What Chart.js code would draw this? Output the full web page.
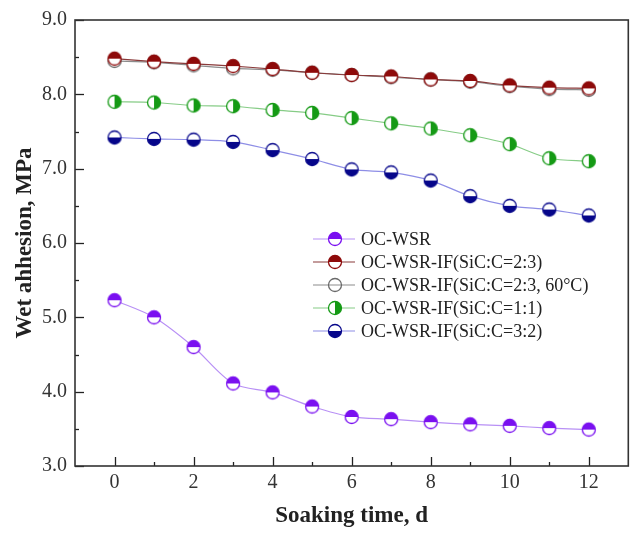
<!DOCTYPE html>
<html>
<head>
<meta charset="utf-8">
<script src="https://cdn.jsdelivr.net/npm/chart.js@4.4.1/dist/chart.umd.min.js"></script>
<style>
  body { margin: 0; background: #fff; }
  canvas { display: block; }
</style>
</head>
<body>
<canvas id="wetChart" width="636" height="534"></canvas>
<script>
const days = [0, 1, 2, 3, 4, 5, 6, 7, 8, 9, 10, 11, 12];
const ocWsr = [5.23, 5.00, 4.60, 4.11, 3.99, 3.80, 3.66, 3.63, 3.59, 3.56, 3.54, 3.51, 3.49];
const sic23 = [8.48, 8.44, 8.41, 8.38, 8.34, 8.29, 8.26, 8.24, 8.20, 8.18, 8.12, 8.09, 8.08];
const sic23hot = [8.45, 8.43, 8.39, 8.35, 8.33, 8.29, 8.26, 8.23, 8.20, 8.17, 8.11, 8.07, 8.06];
const sic11 = [7.90, 7.89, 7.85, 7.84, 7.79, 7.75, 7.68, 7.61, 7.54, 7.45, 7.33, 7.14, 7.10];
const sic32 = [7.42, 7.40, 7.39, 7.36, 7.25, 7.13, 6.99, 6.95, 6.84, 6.63, 6.50, 6.45, 6.37];
const seriesNames = [
  'OC-WSR',
  'OC-WSR-IF(SiC:C=2:3)',
  'OC-WSR-IF(SiC:C=2:3, 60°C)',
  'OC-WSR-IF(SiC:C=1:1)',
  'OC-WSR-IF(SiC:C=3:2)'
];
const yTicks = [3, 4, 5, 6, 7, 8, 9];
const xTicks = [0, 2, 4, 6, 8, 10, 12];

const SERIF = '"Liberation Serif", "Times New Roman", serif';

// half-filled circle symbol, drawn once and reused as pointStyle
function halfDot(color, half, fill) {
  const r = 6.5;
  const size = 18;
  const c = document.createElement('canvas');
  c.width = size;
  c.height = size;
  const g = c.getContext('2d');
  const m = size / 2;
  g.beginPath();
  g.arc(m, m, r, 0, Math.PI * 2);
  g.fillStyle = fill;
  g.fill();
  if (half) {
    g.save();
    g.beginPath();
    if (half === 'top') g.rect(0, 0, size, m);
    if (half === 'bottom') g.rect(0, m, size, m);
    if (half === 'right') g.rect(m, 0, m, size);
    g.clip();
    g.beginPath();
    g.arc(m, m, r, 0, Math.PI * 2);
    g.fillStyle = color;
    g.fill();
    g.restore();
  }
  g.beginPath();
  g.arc(m, m, r, 0, Math.PI * 2);
  g.lineWidth = 1.3;
  g.strokeStyle = color;
  g.stroke();
  return c;
}

const dots = [
  halfDot('#7a10f0', 'top', '#fff'),
  halfDot('#8e0a0a', 'top', '#fff'),
  halfDot('#6a6a6a', null, 'rgba(255,255,255,0)'),
  halfDot('#159a15', 'right', '#fff'),
  halfDot('#06068a', 'bottom', '#fff')
];
const lineColors = ['#b890f5', '#8a3a3a', '#8c8c8c', '#86cc86', '#8e8ee6'];
const seriesData = [ocWsr, sic23, sic23hot, sic11, sic32];

const datasets = seriesData.map((vals, i) => ({
  label: seriesNames[i],
  data: days.map((d, j) => ({ x: d, y: vals[j] })),
  borderColor: lineColors[i],
  borderWidth: 1.2,
  pointStyle: dots[i],
  pointRadius: 6.5,
  tension: 0.3,
  fill: false
}));

// frame with inward ticks
const frameTicks = {
  id: 'frameTicks',
  afterDraw(chart) {
    const { ctx, chartArea: a, scales: { x, y } } = chart;
    ctx.save();
    ctx.strokeStyle = '#222';
    ctx.lineWidth = 1.3;
    for (let v = 3; v <= 9; v += 0.5) {
      const py = Math.round(y.getPixelForValue(v)) + 0.5;
      const len = Number.isInteger(v) ? 9 : 4;
      ctx.beginPath();
      ctx.moveTo(a.left, py);
      ctx.lineTo(a.left + len, py);
      ctx.stroke();
    }
    for (let d = 0; d <= 12; d++) {
      const px = Math.round(x.getPixelForValue(d)) + 0.5;
      const len = d % 2 === 0 ? 9 : 4;
      ctx.beginPath();
      ctx.moveTo(px, a.bottom);
      ctx.lineTo(px, a.bottom - len);
      ctx.stroke();
    }
    ctx.lineWidth = 1.6;
    ctx.strokeStyle = '#333';
    ctx.strokeRect(a.left, a.top, a.right - a.left, a.bottom - a.top);
    ctx.restore();
  }
};

// legend box inside the plot
const insideLegend = {
  id: 'insideLegend',
  afterDraw(chart) {
    const ctx = chart.ctx;
    const x0 = 313, y0 = 239, step = 23;
    ctx.save();
    ctx.font = '18px ' + SERIF;
    ctx.textBaseline = 'middle';
    ctx.fillStyle = '#222';
    chart.data.datasets.forEach((ds, i) => {
      const yy = y0 + i * step;
      ctx.strokeStyle = ds.borderColor;
      ctx.lineWidth = 1.2;
      ctx.beginPath();
      ctx.moveTo(x0, yy);
      ctx.lineTo(x0 + 42, yy);
      ctx.stroke();
      const img = ds.pointStyle;
      ctx.drawImage(img, x0 + 22 - img.width / 2, yy - img.height / 2);
      ctx.fillText(ds.label, x0 + 48, yy + 1);
    });
    ctx.restore();
  }
};

new Chart(document.getElementById('wetChart'), {
  type: 'line',
  data: { datasets },
  options: {
    responsive: false,
    animation: false,
    layout: { padding: { top: 15, right: 1, left: 0, bottom: 0 } },
    plugins: {
      legend: { display: false },
      tooltip: { enabled: false }
    },
    scales: {
      x: {
        type: 'linear',
        min: -1,
        max: 13,
        afterBuildTicks: (s) => { s.ticks = xTicks.map(v => ({ value: v })); },
        afterFit: (s) => { s.height = 68; },
        grid: { display: false, drawTicks: false },
        border: { display: false },
        ticks: {
          padding: 5,
          color: '#333',
          font: { family: SERIF, size: 20 }
        },
        title: {
          display: true,
          text: 'Soaking time, d',
          color: '#222',
          font: { family: SERIF, size: 23, weight: 'bold' },
          padding: { top: 0, bottom: 4 }
        }
      },
      y: {
        min: 3,
        max: 9,
        afterBuildTicks: (s) => { s.ticks = yTicks.map(v => ({ value: v })); },
        afterFit: (s) => { s.width = 75; },
        grid: { display: false, drawTicks: false },
        border: { display: false },
        ticks: {
          padding: 8,
          color: '#333',
          font: { family: SERIF, size: 20 },
          callback: (v) => v.toFixed(1)
        },
        title: {
          display: true,
          text: 'Wet ahhesion, MPa',
          color: '#222',
          font: { family: SERIF, size: 23, weight: 'bold' },
          padding: { top: 11, bottom: 0 }
        }
      }
    }
  },
  plugins: [frameTicks, insideLegend]
});
</script>
</body>
</html>
